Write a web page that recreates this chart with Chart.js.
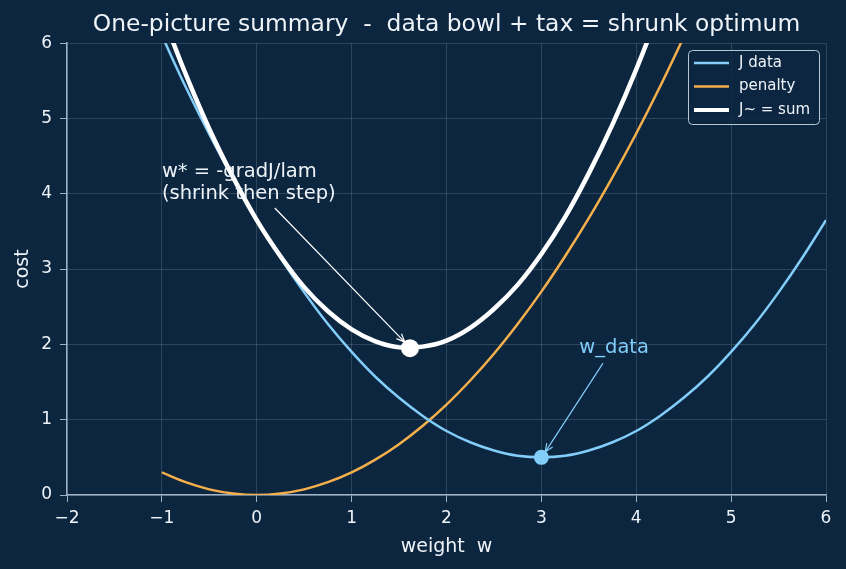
<!DOCTYPE html>
<html>
<head>
<meta charset="utf-8">
<script src="https://cdn.jsdelivr.net/npm/chart.js@4.4.1/dist/chart.umd.min.js"></script>
<style>
  body { margin: 0; background: #0c2640; }
  #wrap { width: 846px; height: 569px; }
</style>
</head>
<body>
<div id="wrap"><canvas id="chart" width="846" height="569"></canvas></div>
<script>
// weights sampled along the curves
const wValues = [-1, -0.75, -0.5, -0.25, 0, 0.25, 0.5, 0.75, 1, 1.25, 1.5, 1.75, 2, 2.25, 2.5, 2.75, 3, 3.25, 3.5, 3.75, 4, 4.25, 4.5, 4.75, 5, 5.25, 5.5, 5.75, 6];
const jData = [6.1, 5.42, 4.79, 4.2, 3.65, 3.15, 2.69, 2.27, 1.9, 1.57, 1.29, 1.05, 0.85, 0.7, 0.59, 0.52, 0.5, 0.52, 0.59, 0.7, 0.85, 1.05, 1.29, 1.57, 1.9, 2.27, 2.69, 3.15, 3.65];
const penalty = [0.3, 0.17, 0.075, 0.02, 0, 0.02, 0.075, 0.17, 0.3, 0.47, 0.675, 0.92, 1.2, 1.52, 1.875, 2.27, 2.7, 3.17, 3.675, 4.22, 4.8, 5.42, 6.08, 6.77, 7.5, 8.27, 9.08, 9.92, 10.8];
const jSum = [6.4, 5.59, 4.86, 4.22, 3.65, 3.17, 2.76, 2.44, 2.2, 2.04, 1.96, 1.97, 2.05, 2.22, 2.47, 2.79, 3.2, 3.69, 4.27, 4.92, 5.65, 6.47, 7.37, 8.34, 9.4, 10.54, 11.77, 13.07, 14.45];
const optShrunk = { w: 1.615, cost: 1.95 };
const optData = { w: 3, cost: 0.5 };
const xTicks = [-2, -1, 0, 1, 2, 3, 4, 5, 6];
const yTicks = [0, 1, 2, 3, 4, 5, 6];

const bg = '#0c2640';
const blue = '#82cdfa';
const orange = '#f5b04c';
const white = '#ffffff';
const spine = '#9fb2c6';
const textColor = '#eef3f8';
const font = 'DejaVu Sans';

const toPoints = (ys) => wValues.map((w, i) => ({ x: w, y: ys[i] }));

const legendItems = [
  { label: 'J data', color: blue, width: 2.5 },
  { label: 'penalty', color: orange, width: 2.5 },
  { label: 'J~ = sum', color: white, width: 4 },
];

const arrow = (ctx, x1, y1, x2, y2, color) => {
  const ang = Math.atan2(y2 - y1, x2 - x1);
  ctx.strokeStyle = color;
  ctx.lineWidth = 1.2;
  ctx.beginPath();
  ctx.moveTo(x1, y1);
  ctx.lineTo(x2, y2);
  ctx.moveTo(x2 - 9 * Math.cos(ang - 0.4), y2 - 9 * Math.sin(ang - 0.4));
  ctx.lineTo(x2, y2);
  ctx.lineTo(x2 - 9 * Math.cos(ang + 0.4), y2 - 9 * Math.sin(ang + 0.4));
  ctx.stroke();
};

const decorations = {
  id: 'decorations',
  beforeDraw(chart) {
    const { ctx } = chart;
    ctx.save();
    ctx.fillStyle = bg;
    ctx.fillRect(0, 0, chart.width, chart.height);
    ctx.restore();
  },
  afterDatasetsDraw(chart) {
    const { ctx, scales: { x, y } } = chart;
    ctx.save();
    // annotation for shrunk optimum
    ctx.font = `19.5px "${font}"`;
    ctx.fillStyle = textColor;
    ctx.textAlign = 'left';
    ctx.textBaseline = 'alphabetic';
    ctx.fillText('w* = -gradJ/lam', x.getPixelForValue(-1), y.getPixelForValue(4.22));
    ctx.fillText('(shrink then step)', x.getPixelForValue(-1), y.getPixelForValue(3.93));
    arrow(ctx, x.getPixelForValue(0.19), y.getPixelForValue(3.81), x.getPixelForValue(1.56), y.getPixelForValue(2.03), white);
    // annotation for data optimum
    ctx.fillStyle = blue;
    ctx.fillText('w_data', x.getPixelForValue(3.4), y.getPixelForValue(1.885));
    arrow(ctx, x.getPixelForValue(3.65), y.getPixelForValue(1.75), x.getPixelForValue(3.04), y.getPixelForValue(0.57), blue);

    // legend box
    const lx = 688, ly = 50, lw = 131, lh = 74;
    ctx.fillStyle = 'rgba(12,38,64,0.8)';
    ctx.strokeStyle = '#b9c6d3';
    ctx.lineWidth = 1;
    ctx.beginPath();
    ctx.roundRect(lx + 0.5, ly + 0.5, lw, lh, 4);
    ctx.fill();
    ctx.stroke();
    ctx.font = `15px "${font}"`;
    ctx.textBaseline = 'middle';
    legendItems.forEach((item, i) => {
      const rowY = ly + 13 + i * 23.5;
      ctx.strokeStyle = item.color;
      ctx.lineWidth = item.width;
      ctx.beginPath();
      ctx.moveTo(lx + 6, rowY);
      ctx.lineTo(lx + 41, rowY);
      ctx.stroke();
      ctx.fillStyle = textColor;
      ctx.fillText(item.label, lx + 51, rowY);
    });
    ctx.restore();
  },
};

new Chart(document.getElementById('chart'), {
  type: 'scatter',
  data: {
    datasets: [
      { label: 'J data', data: toPoints(jData), showLine: true, borderColor: blue, borderWidth: 2.5, pointRadius: 0, tension: 0.4, order: 3 },
      { label: 'penalty', data: toPoints(penalty), showLine: true, borderColor: orange, borderWidth: 2.5, pointRadius: 0, tension: 0.4, order: 4 },
      { label: 'J~ = sum', data: toPoints(jSum), showLine: true, borderColor: white, borderWidth: 4.5, pointRadius: 0, tension: 0.4, order: 2 },
      { label: 'w*', data: [{ x: optShrunk.w, y: optShrunk.cost }], pointRadius: 9, backgroundColor: white, borderWidth: 0, order: 1 },
      { label: 'w_data', data: [{ x: optData.w, y: optData.cost }], pointRadius: 7.5, backgroundColor: blue, borderWidth: 0, order: 1 },
    ],
  },
  options: {
    responsive: false,
    animation: false,
    layout: { padding: { left: 0, right: 20, top: 0, bottom: 0 } },
    plugins: {
      legend: { display: false },
      tooltip: { enabled: false },
      title: {
        display: true,
        text: 'One-picture summary  -  data bowl + tax = shrunk optimum',
        color: textColor,
        font: { family: font, size: 23.4, weight: 'normal' },
        fullSize: false,
        padding: { top: 11, bottom: 4 },
      },
    },
    scales: {
      x: {
        type: 'linear',
        min: -2,
        max: 6,
        afterBuildTicks: (scale) => { scale.ticks = xTicks.map((v) => ({ value: v })); },
        afterFit: (scale) => { scale.height = 74; },
        ticks: {
          color: textColor,
          font: { family: font, size: 17 },
          padding: 6,
          callback: (v) => (v < 0 ? '\u2212' + Math.abs(v) : String(v)),
        },
        grid: { color: 'rgba(255,255,255,0.14)', tickColor: spine, tickLength: 7, lineWidth: 1 },
        border: { color: spine, width: 1.5 },
        title: { display: true, text: 'weight  w', color: textColor, font: { family: font, size: 19 }, padding: { top: 4, bottom: 11 } },
      },
      y: {
        type: 'linear',
        min: 0,
        max: 6,
        afterBuildTicks: (scale) => { scale.ticks = yTicks.map((v) => ({ value: v })); },
        afterFit: (scale) => { scale.width = 67; },
        ticks: { color: textColor, font: { family: font, size: 17 }, padding: 8 },
        grid: { color: 'rgba(255,255,255,0.14)', tickColor: spine, tickLength: 7, lineWidth: 1 },
        border: { color: spine, width: 1.5 },
        title: { display: true, text: 'cost', color: textColor, font: { family: font, size: 19 }, padding: { top: 12, bottom: 0 } },
      },
    },
  },
  plugins: [decorations],
});
</script>
</body>
</html>
